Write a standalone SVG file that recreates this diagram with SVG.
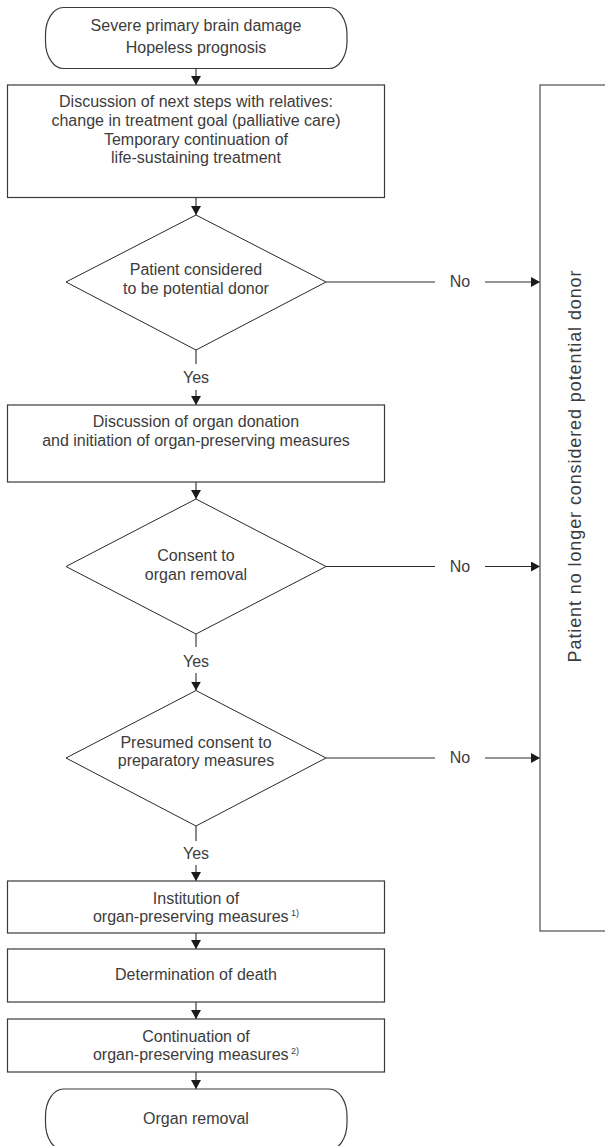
<svg xmlns="http://www.w3.org/2000/svg" width="605" height="1146" viewBox="0 0 605 1146">
<style>
.bx{fill:#fff;stroke:#3a3a3a;stroke-width:1.2}
.dm{fill:#fff;stroke:#2a2a2a;stroke-width:1}
.ln{fill:none;stroke:#2a2a2a;stroke-width:1.1}
.t{font-family:"Liberation Sans",Arial,sans-serif;font-size:16px;fill:#3c3c3c;text-anchor:middle}
.sup{font-size:9px}
.vt{font-family:"Liberation Sans",Arial,sans-serif;font-size:18px;fill:#3c3c3c;text-anchor:middle;letter-spacing:0.9px}
</style>
<defs>
<marker id="ah" markerWidth="9" markerHeight="10" refX="9" refY="5" orient="auto" markerUnits="userSpaceOnUse">
<path d="M0,0 L9,5 L0,10 z" fill="#1a1a1a"/>
</marker>
</defs>

<g id="connectors">
<line class="ln" x1="196" y1="68.5" x2="196" y2="85" marker-end="url(#ah)"/>
<line class="ln" x1="196" y1="197.5" x2="196" y2="215" marker-end="url(#ah)"/>
<line class="ln" x1="196" y1="350" x2="196" y2="364"/>
<line class="ln" x1="196" y1="390" x2="196" y2="405" marker-end="url(#ah)"/>
<line class="ln" x1="196" y1="482" x2="196" y2="499" marker-end="url(#ah)"/>
<line class="ln" x1="196" y1="634" x2="196" y2="647"/>
<line class="ln" x1="196" y1="673" x2="196" y2="690.5" marker-end="url(#ah)"/>
<line class="ln" x1="196" y1="826" x2="196" y2="841"/>
<line class="ln" x1="196" y1="865" x2="196" y2="881" marker-end="url(#ah)"/>
<line class="ln" x1="196" y1="933" x2="196" y2="949" marker-end="url(#ah)"/>
<line class="ln" x1="196" y1="1002" x2="196" y2="1019" marker-end="url(#ah)"/>
<line class="ln" x1="196" y1="1072" x2="196" y2="1089" marker-end="url(#ah)"/>
<line class="ln" x1="326" y1="282" x2="435" y2="282"/>
<line class="ln" x1="485" y1="282" x2="540" y2="282" marker-end="url(#ah)"/>
<line class="ln" x1="326" y1="566.5" x2="435" y2="566.5"/>
<line class="ln" x1="485" y1="566.5" x2="540" y2="566.5" marker-end="url(#ah)"/>
<line class="ln" x1="326" y1="758" x2="435" y2="758"/>
<line class="ln" x1="485" y1="758" x2="540" y2="758" marker-end="url(#ah)"/>
<text class="t" x="196" y="382.7">Yes</text>
<text class="t" x="196" y="667">Yes</text>
<text class="t" x="196" y="858.5">Yes</text>
<text class="t" x="460" y="287">No</text>
<text class="t" x="460" y="571.5">No</text>
<text class="t" x="460" y="763">No</text>
</g>

<g id="start">
<rect class="bx" x="45.5" y="7.5" width="301.5" height="61" rx="18" ry="27"/>
<text class="t" x="196" y="30.5">Severe primary brain damage</text>
<text class="t" x="196" y="53">Hopeless prognosis</text>
</g>

<g id="discussion-relatives">
<rect class="bx" x="7.5" y="85" width="377" height="112.5"/>
<text class="t" x="196" y="106.5">Discussion of next steps with relatives:</text>
<text class="t" x="196" y="125.5">change in treatment goal (palliative care)</text>
<text class="t" x="196" y="144.5">Temporary continuation of</text>
<text class="t" x="196" y="163">life-sustaining treatment</text>
</g>

<g id="potential-donor">
<polygon class="dm" points="196,215 326,282 196,350 66,282"/>
<text class="t" x="196" y="275">Patient considered</text>
<text class="t" x="196" y="293.5">to be potential donor</text>
</g>

<g id="discussion-donation">
<rect class="bx" x="7.5" y="405" width="377" height="77"/>
<text class="t" x="196" y="427">Discussion of organ donation</text>
<text class="t" x="196" y="445.5">and initiation of organ-preserving measures</text>
</g>

<g id="consent-removal">
<polygon class="dm" points="196,499 326,566.5 196,634 66,566.5"/>
<text class="t" x="196" y="561">Consent to</text>
<text class="t" x="196" y="579.5">organ removal</text>
</g>

<g id="presumed-consent">
<polygon class="dm" points="196,690.5 326,758 196,826 66,758"/>
<text class="t" x="196" y="748">Presumed consent to</text>
<text class="t" x="196" y="766">preparatory measures</text>
</g>

<g id="institution">
<rect class="bx" x="7.5" y="881" width="377" height="52"/>
<text class="t" x="196" y="904">Institution of</text>
<text class="t" x="196" y="921.5">organ-preserving measures<tspan class="sup" dy="-6"> 1)</tspan></text>
</g>

<g id="death">
<rect class="bx" x="7.5" y="949" width="377" height="53"/>
<text class="t" x="196" y="980">Determination of death</text>
</g>

<g id="continuation">
<rect class="bx" x="7.5" y="1019" width="377" height="53"/>
<text class="t" x="196" y="1041.5">Continuation of</text>
<text class="t" x="196" y="1059.5">organ-preserving measures<tspan class="sup" dy="-6"> 2)</tspan></text>
</g>

<g id="removal">
<rect class="bx" x="45.5" y="1089" width="301.5" height="61" rx="18" ry="27"/>
<text class="t" x="196" y="1124">Organ removal</text>
</g>

<g id="no-longer-donor">
<rect class="bx" x="540" y="85" width="120" height="846" style="stroke:#666;stroke-width:1.4"/>
<text class="vt" transform="translate(581,466) rotate(-90)">Patient no longer considered potential donor</text>
</g>
</svg>
